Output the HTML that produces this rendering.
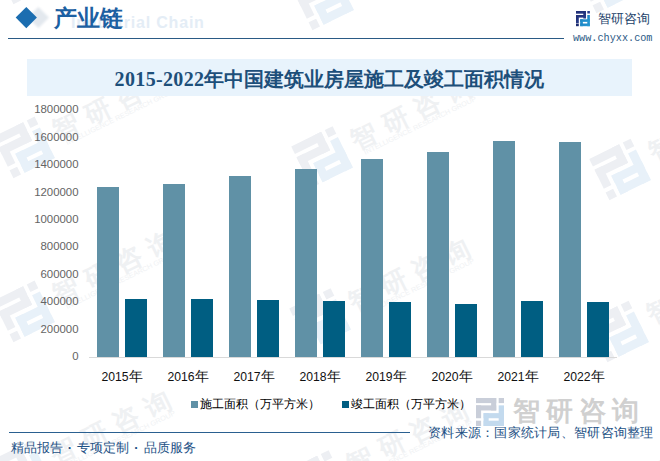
<!DOCTYPE html>
<html><head><meta charset="utf-8">
<style>
html,body{margin:0;padding:0;}
body{text-spacing-trim:space-all;width:660px;height:461px;position:relative;overflow:hidden;background:#fff;font-family:"Liberation Sans",sans-serif;}
.a{position:absolute;white-space:nowrap;}
#wm{position:absolute;left:0;top:0;}
.hdr-line{position:absolute;left:8px;top:38px;width:556px;height:1.3px;background:#2a5a85;}
.ftr-line{position:absolute;left:9px;top:431.6px;width:401px;height:1.5px;background:#2a6090;}
.band{position:absolute;left:27px;top:59px;width:605px;height:37px;background:#e8f3fc;}
.title{position:absolute;left:27px;top:61px;width:605px;height:37px;line-height:37px;text-align:center;font-family:"Liberation Serif",serif;font-weight:bold;font-size:20px;color:#1d4f7a;}
.yl{position:absolute;right:581.5px;font-size:11.4px;color:#646464;line-height:12px;text-align:right;}
.xl{position:absolute;width:66px;text-align:center;font-size:12.2px;color:#111;line-height:14px;top:369px;}
.xl span{font-size:14px;}
.bar{position:absolute;width:22px;}
.b1{background:#6091a6;}
.b2{background:#005e82;}
.leg{position:absolute;top:397px;font-size:12px;color:#000;line-height:14px;}
.dot{display:inline-block;width:14.6px;text-align:center;font-weight:bold;}
.sw{position:absolute;width:7px;height:7px;top:400.5px;}
</style></head><body>

<svg id="wm" width="660" height="461" viewBox="0 0 660 461">
<defs>
<g id="logoN"><rect x="0" y="0" width="19.8" height="5"/><rect x="22.2" y="0" width="5.2" height="5"/><rect x="14.8" y="0" width="5" height="12.2"/><rect x="0" y="7.2" width="19.8" height="5"/><rect x="0" y="7.2" width="5" height="12.6"/><rect x="0" y="22.2" width="5" height="5.2"/></g>
<g id="logoB"><rect x="22.2" y="7.2" width="5.2" height="20.2"/><rect x="7.4" y="14.8" width="20" height="5"/><rect x="7.4" y="14.8" width="5" height="12.6"/><rect x="7.4" y="22.2" width="20" height="5.2"/></g>
<g id="wmg">
  <g transform="translate(-105,-21.4) scale(1.68)"><use href="#logoN" fill="#edeff3"/><use href="#logoB" fill="#e8f1f9"/></g>
  <text x="-48 -13 22 57" y="9.9" font-size="26" font-weight="700" fill="#eff1f3" font-family="Liberation Sans">智研咨询</text>
  <text x="-42" y="18.5" font-size="7" fill="#f0f2f4" font-family="Liberation Sans" textLength="124" lengthAdjust="spacingAndGlyphs">INTELLIGENCE RESEARCH GROUP</text>
</g>
</defs>
<use href="#wmg" transform="translate(97,-64) rotate(-26)"/>
<use href="#wmg" transform="translate(97,110) rotate(-26)"/>
<use href="#wmg" transform="translate(97,274) rotate(-26)"/>
<use href="#wmg" transform="translate(94,434) rotate(-26)"/>
<use href="#wmg" transform="translate(396,-38) rotate(-26)"/>
<use href="#wmg" transform="translate(395,119.6) rotate(-26)"/>
<use href="#wmg" transform="translate(393,281.6) rotate(-26)"/>
<use href="#wmg" transform="translate(391,443.6) rotate(-26)"/>
<use href="#wmg" transform="translate(680,-55) rotate(-26)"/>
<use href="#wmg" transform="translate(693,132.1) rotate(-26)"/>
<use href="#wmg" transform="translate(691,294.1) rotate(-26)"/>
<use href="#wmg" transform="translate(689,456.1) rotate(-26)"/>
</svg>

<!-- header -->
<div class="a" style="left:71px;top:13px;font-size:16px;letter-spacing:0.8px;font-weight:bold;color:#e4edf6;line-height:20px;">Industrial Chain</div>
<div class="a" style="left:30.5px;top:9.8px;width:14.8px;height:14.8px;background:#e3e8ee;transform:rotate(45deg);filter:blur(0.9px);"></div>
<div class="a" style="left:19px;top:9.7px;width:14.6px;height:14.6px;background:#1b6db0;transform:rotate(45deg);"></div>
<div class="a" style="left:54px;top:4px;font-size:23px;font-weight:600;color:#1c60a2;line-height:30px;font-family:'Liberation Serif',serif;">产业链</div>
<div class="hdr-line"></div>

<!-- logo top right -->
<svg class="a" style="left:575px;top:11px;" width="16" height="16" viewBox="0 0 16 16">
  <defs>
    <linearGradient id="lg1" x1="0" y1="0" x2="1" y2="1">
      <stop offset="0" stop-color="#1d2b6f"/><stop offset="1" stop-color="#2a3f8f"/>
    </linearGradient>
    <linearGradient id="lg2" x1="0" y1="0" x2="1" y2="1">
      <stop offset="0" stop-color="#1a7fbf"/><stop offset="1" stop-color="#2a9fd8"/>
    </linearGradient>
  </defs>
  <rect x="1" y="0" width="10" height="2.7" fill="url(#lg1)"/>
  <rect x="12.3" y="0" width="2.6" height="2.5" fill="#2a3f8f"/>
  <rect x="8.3" y="0" width="2.7" height="7.5" fill="url(#lg1)"/>
  <rect x="1" y="4" width="10" height="2.6" fill="url(#lg1)"/>
  <rect x="1" y="4" width="2.8" height="8" fill="url(#lg1)"/>
  <rect x="1" y="12.5" width="2.8" height="2.7" fill="#1d2b6f"/>
  <rect x="12.3" y="4" width="2.6" height="11.2" fill="url(#lg2)"/>
  <rect x="5.2" y="8.3" width="9.7" height="2.6" fill="url(#lg2)"/>
  <rect x="5.2" y="8.3" width="2.7" height="6.9" fill="url(#lg2)"/>
  <rect x="5.2" y="12.5" width="9.7" height="2.7" fill="url(#lg2)"/>
</svg>
<div class="a" style="left:598px;top:11px;font-size:12.8px;color:#23426a;line-height:16px;">智研咨询</div>
<div class="a" style="left:573px;top:33px;font-size:10.2px;color:#2b5a85;line-height:12px;font-family:'Liberation Mono',monospace;">www.chyxx.com</div>

<!-- title band -->
<div class="band"></div>
<div class="title"><span style="letter-spacing:0.35px">2015-2022</span>年中国建筑业房屋施工及竣工面积情况</div>

<!-- y labels -->
<div id="ylabels"></div>
<div class="yl" style="top:103px">1800000</div>
<div class="yl" style="top:130.5px">1600000</div>
<div class="yl" style="top:158px">1400000</div>
<div class="yl" style="top:185.5px">1200000</div>
<div class="yl" style="top:213px">1000000</div>
<div class="yl" style="top:240.3px">800000</div>
<div class="yl" style="top:267.7px">600000</div>
<div class="yl" style="top:295px">400000</div>
<div class="yl" style="top:322.5px">200000</div>
<div class="yl" style="top:350px">0</div>

<!-- axis -->
<div class="a" style="left:89px;top:356.8px;width:528px;height:1px;background:#d9d9d9;"></div>

<!-- bars -->
<div class="bar b1" style="left:97px;top:187px;height:170px"></div>
<div class="bar b2" style="left:125px;top:299px;height:58px"></div>
<div class="bar b1" style="left:163px;top:184px;height:173px"></div>
<div class="bar b2" style="left:191px;top:299px;height:58px"></div>
<div class="bar b1" style="left:229px;top:175.6px;height:181.4px"></div>
<div class="bar b2" style="left:257px;top:300px;height:57px"></div>
<div class="bar b1" style="left:295px;top:168.8px;height:188.2px"></div>
<div class="bar b2" style="left:323px;top:301px;height:56px"></div>
<div class="bar b1" style="left:361px;top:159.2px;height:197.8px"></div>
<div class="bar b2" style="left:389px;top:302px;height:55px"></div>
<div class="bar b1" style="left:427px;top:152px;height:205px"></div>
<div class="bar b2" style="left:455px;top:304px;height:53px"></div>
<div class="bar b1" style="left:493px;top:141.2px;height:215.8px"></div>
<div class="bar b2" style="left:521px;top:300.6px;height:56.4px"></div>
<div class="bar b1" style="left:559px;top:142px;height:215px"></div>
<div class="bar b2" style="left:587px;top:302px;height:55px"></div>

<!-- x labels -->
<div class="xl" style="left:89px">2015<span>年</span></div>
<div class="xl" style="left:155px">2016<span>年</span></div>
<div class="xl" style="left:221px">2017<span>年</span></div>
<div class="xl" style="left:287px">2018<span>年</span></div>
<div class="xl" style="left:353px">2019<span>年</span></div>
<div class="xl" style="left:419px">2020<span>年</span></div>
<div class="xl" style="left:485px">2021<span>年</span></div>
<div class="xl" style="left:551px">2022<span>年</span></div>

<!-- legend -->
<div class="sw b1" style="left:191px"></div>
<div class="leg" style="left:200px">施工面积（万平方米）</div>
<div class="sw b2" style="left:342px"></div>
<div class="leg" style="left:351px">竣工面积（万平方米）</div>

<!-- footer -->
<div class="ftr-line"></div>
<div class="a" style="left:10.5px;top:439.5px;font-size:13px;color:#1d5185;line-height:16px;">精品报告<span class="dot">·</span>专项定制<span class="dot">·</span>品质服务</div>
<svg class="a" style="left:476px;top:398px;" width="28" height="28" viewBox="0 0 27.4 27.4"><use href="#logoN" fill="#c9ced9"/><use href="#logoB" fill="#c3daee"/></svg>
<div class="a" style="left:513px;top:396px;font-size:27px;font-weight:700;color:#d0d0d0;line-height:30px;letter-spacing:6px;">智研咨询</div>
<div class="a" style="left:428px;top:424.5px;font-size:13.2px;letter-spacing:0.27px;color:#1d5185;line-height:16px;">资料来源：国家统计局、智研咨询整理</div>

</body></html>
